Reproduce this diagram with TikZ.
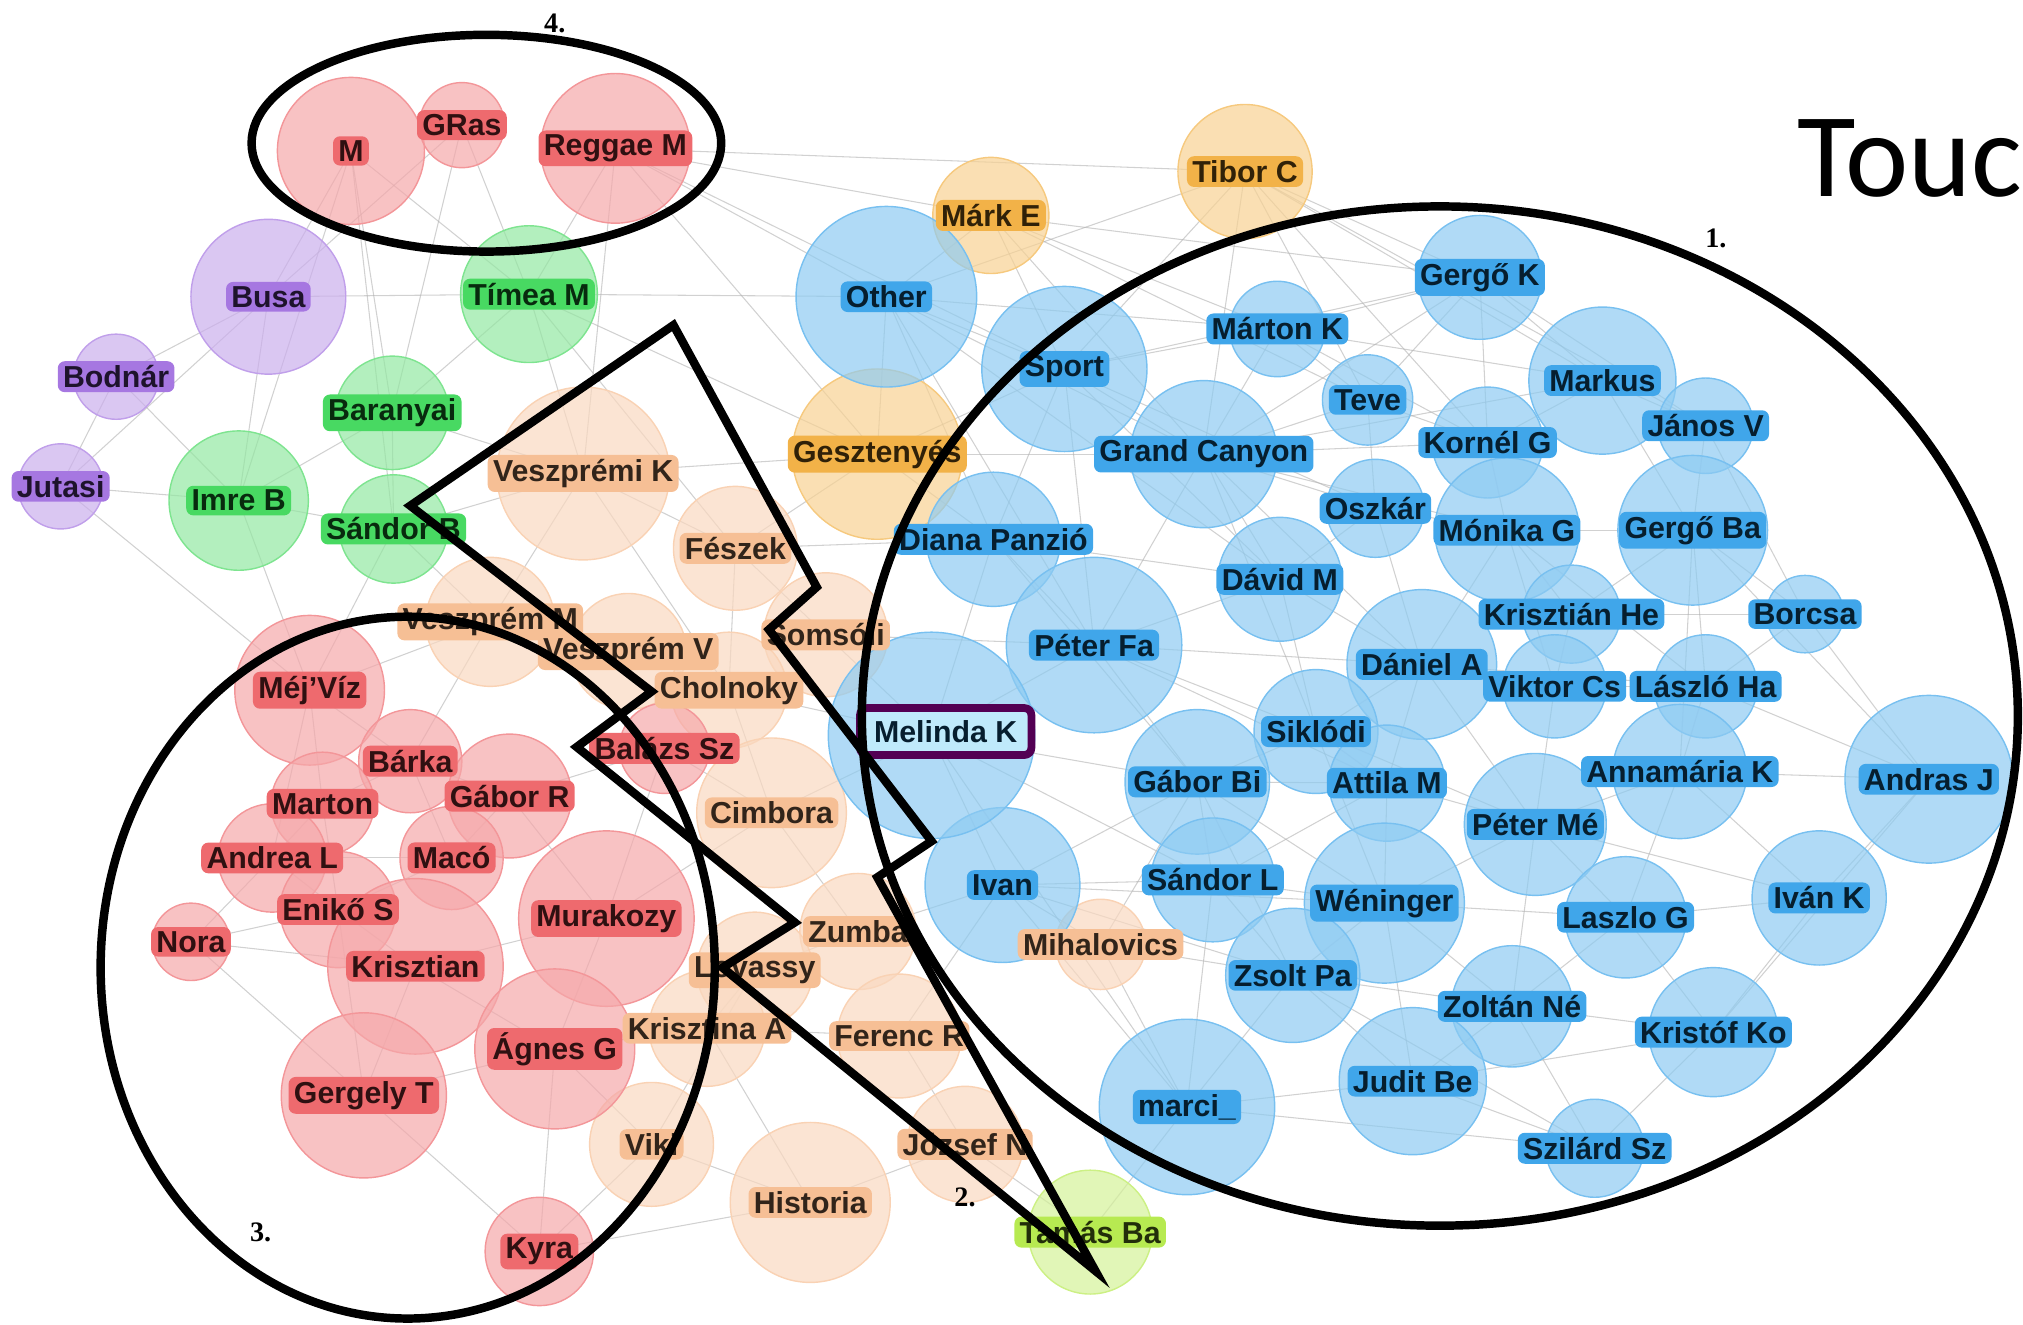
\documentclass[tikz,border=0pt]{standalone}
\usepackage{fontspec}
\setmainfont{Liberation Sans}
\newfontfamily\headfont{Carlito}
\newfontfamily\numfont{Liberation Serif}

\definecolor{blu}{RGB}{30,150,230}
\definecolor{rose}{RGB}{235,80,85}
\definecolor{peach}{RGB}{245,180,130}
\definecolor{amber}{RGB}{240,165,40}
\definecolor{lilac}{RGB}{150,95,220}
\definecolor{leaf}{RGB}{40,210,70}
\definecolor{limey}{RGB}{170,230,50}

\pgfdeclarelayer{edges}
\pgfsetlayers{edges,main}

\tikzset{
  bubble/.style={circle, inner sep=0pt, line width=0.4pt},
  tag/.style={rounded corners=2pt, inner xsep=1.5pt, inner ysep=1.2pt,
              font=\bfseries\fontsize{8.6}{9}\selectfont},
  link/.style={draw=gray!60, line width=0.3pt, opacity=0.6},
  ring/.style={draw=black, line width=2.4pt, line join=round},
  nr/.style={font=\numfont\bfseries\fontsize{8}{9}\selectfont}
}

% name/x/y/radius/colour/label
\def\people{
  busa/208/230/60/lilac/Busa,
  bodnar/90/292/33/lilac/Bodnár,
  jutasi/47/377/33/lilac/Jutasi,
  timea/410/228/53/leaf/Tímea M,
  baranyai/304/320/44/leaf/Baranyai,
  imreb/185/388/54/leaf/Imre B,
  sandorb/305/410/42/leaf/Sándor B,
  tamas/845/955/48/limey/Tamás Ba,
  marke/768/167/45/amber/Márk E,
  tiborc/965/133/52/amber/Tibor C,
  geszt/680/352/66/amber/Gesztenyés,
  veszk/452/367/67/peach/Veszprémi K,
  feszek/570/425/48/peach/Fészek,
  veszm/380/482/50/peach/Veszprém M,
  veszv/487/505/45/peach/Veszprém V,
  somsoli/640/492/48/peach/Somsóli,
  cholnoky/565/535/45/peach/Cholnoky,
  cimbora/598/630/58/peach/Cimbora,
  zumba/665/722/45/peach/Zumba,
  lovassy/585/752/45/peach/Lovassy,
  krisztina/548/797/45/peach/Krisztina A,
  ferenc/697/803/48/peach/Ferenc R,
  viki/505/887/48/peach/Viki,
  historia/628/932/62/peach/Historia,
  jozsef/748/887/45/peach/József N,
  mihal/853/732/35/peach/Mihalovics,
  m/272/117/57/rose/M,
  gras/358/97/33/rose/GRas,
  reggae/477/115/58/rose/Reggae M,
  balazs/515/580/35/rose/Balázs Sz,
  mejviz/240/535/58/rose/Méj'Víz,
  barka/318/590/40/rose/Bárka,
  marton/250/623/40/rose/Marton,
  gaborr/395/617/48/rose/Gábor R,
  andreal/211/665/42/rose/Andrea L,
  maco/350/665/40/rose/Macó,
  eniko/262/705/45/rose/Enikő S,
  nora/148/730/30/rose/Nora,
  murakozy/470/712/68/rose/Murakozy,
  krisztian/322/749/68/rose/Krisztian,
  agnes/430/813/62/rose/Ágnes G,
  gergely/282/849/64/rose/Gergely T,
  kyra/418/970/42/rose/Kyra,
  other/687/230/70/blu/Other,
  sport/825/286/64/blu/Sport,
  diana/770/418/52/blu/Diana Panzió,
  peterfa/848/500/68/blu/Péter Fa,
  ivan/777/686/60/blu/Ivan,
  grand/933/352/57/blu/Grand Canyon,
  martonk/990/255/37/blu/Márton K,
  gergok/1147/215/48/blu/Gergő K,
  teve/1060/310/35/blu/Teve,
  markus/1242/295/57/blu/Markus,
  kornel/1153/343/43/blu/Kornél G,
  janos/1322/330/37/blu/János V,
  oszkar/1066/394/38/blu/Oszkár,
  monika/1168/411/56/blu/Mónika G,
  gergoba/1312/411/58/blu/Gergő Ba,
  david/992/449/48/blu/Dávid M,
  krisztianhe/1218/476/38/blu/Krisztián He,
  borcsa/1399/476/30/blu/Borcsa,
  daniel/1102/515/58/blu/Dániel A,
  viktor/1205/532/40/blu/Viktor Cs,
  laszloha/1322/532/40/blu/László Ha,
  siklodi/1020/567/48/blu/Siklódi,
  gaborbi/928/606/56/blu/Gábor Bi,
  attila/1075/607/45/blu/Attila M,
  annamaria/1302/598/52/blu/Annamária K,
  andras/1495/604/65/blu/Andras J,
  peterme/1190/639/55/blu/Péter Mé,
  sandorl/940/682/48/blu/Sándor L,
  weninger/1073/700/62/blu/Wéninger,
  laszlog/1260/711/47/blu/Laszlo G,
  ivank/1410/696/52/blu/Iván K,
  zsolt/1002/756/52/blu/Zsolt Pa,
  zoltan/1172/780/47/blu/Zoltán Né,
  kristof/1328/800/50/blu/Kristóf Ko,
  judit/1095/838/57/blu/Judit Be,
  marci/920/858/68/blu/marci\_,
  szilard/1236/890/38/blu/Szilárd Sz
}

\begin{document}
\begin{tikzpicture}[x=0.366pt, y=-0.366pt]
  \useasboundingbox (0,0) rectangle (1568,1027);

  % bubbles
  \foreach \nm/\px/\py/\rad/\col/\txt in \people
    \node[bubble, minimum size=\rad*0.732pt, fill=\col!50!white, fill opacity=0.7,
          draw=\col!60!white] (\nm) at (\px,\py) {};
  \node[bubble, minimum size=160*0.366pt, fill=blu!50!white, fill opacity=0.7,
        draw=blu!60!white] (melinda) at (722,570) {};

  % links
  \begin{pgfonlayer}{edges}
  \foreach \a/\b in {other/sport, other/diana, other/grand, other/peterfa, sport/grand,
      sport/martonk, sport/gergok, sport/diana, sport/peterfa, grand/martonk, grand/teve,
      grand/oszkar, grand/david, grand/monika, grand/kornel, grand/gergok, grand/markus,
      martonk/gergok, martonk/teve, martonk/kornel, martonk/markus, gergok/markus,
      gergok/kornel, gergok/janos, gergok/teve, teve/kornel, teve/oszkar, kornel/markus,
      kornel/monika, markus/janos, markus/gergoba, janos/gergoba, janos/borcsa,
      oszkar/monika, oszkar/david, oszkar/daniel, monika/gergoba, monika/krisztianhe,
      monika/daniel, gergoba/borcsa, gergoba/krisztianhe, gergoba/laszloha, david/daniel,
      david/siklodi, david/peterfa, david/diana, diana/peterfa, diana/melinda,
      peterfa/melinda, peterfa/siklodi, peterfa/gaborbi, melinda/ivan, melinda/gaborbi,
      ivan/gaborbi, ivan/sandorl, ivan/marci, daniel/siklodi, daniel/viktor, daniel/attila,
      krisztianhe/viktor, krisztianhe/borcsa, viktor/laszloha, laszloha/annamaria,
      laszloha/borcsa, viktor/peterme, siklodi/attila, siklodi/gaborbi, gaborbi/sandorl,
      attila/peterme, attila/weninger, attila/sandorl, annamaria/andras,
      annamaria/peterme, annamaria/ivank, peterme/weninger, peterme/laszlog,
      sandorl/weninger, sandorl/zsolt, weninger/zsolt, weninger/laszlog, weninger/zoltan,
      laszlog/ivank, laszlog/kristof, laszlog/zoltan, ivank/andras, ivank/kristof,
      zsolt/marci, zsolt/judit, zoltan/judit, zoltan/kristof, kristof/szilard,
      judit/szilard, judit/marci, marci/szilard, andras/kristof, borcsa/andras,
      tiborc/gergok, tiborc/markus, tiborc/grand, tiborc/sport, tiborc/other,
      tiborc/kornel, tiborc/janos, tiborc/teve, marke/teve, marke/gergok,
      marke/other, marke/sport, marke/grand, marke/martonk, reggae/other, reggae/marke,
      reggae/tiborc, reggae/timea, reggae/sport, reggae/geszt, reggae/veszk,
      m/busa, m/timea, m/sandorb, m/baranyai, m/imreb, gras/busa, gras/timea,
      gras/baranyai, busa/bodnar, busa/jutasi, busa/imreb, busa/timea, bodnar/jutasi,
      bodnar/imreb, jutasi/imreb, jutasi/mejviz, imreb/baranyai, imreb/sandorb,
      baranyai/sandorb, baranyai/timea, baranyai/veszk, timea/veszk, timea/other,
      timea/geszt, timea/feszek, sandorb/veszk, sandorb/veszm, sandorb/mejviz,
      imreb/mejviz, geszt/other, geszt/veszk, geszt/feszek, geszt/diana, geszt/sport,
      geszt/grand, veszk/feszek, veszk/veszm, veszk/cholnoky, feszek/somsoli,
      feszek/cholnoky, feszek/diana, veszm/veszv, veszm/mejviz, veszm/barka,
      veszv/cholnoky, somsoli/melinda, somsoli/peterfa, cholnoky/cimbora,
      cholnoky/melinda, cimbora/balazs, cimbora/zumba, cimbora/melinda, zumba/lovassy,
      lovassy/krisztina, lovassy/viki, krisztina/ferenc, krisztina/historia,
      ferenc/jozsef, viki/historia, historia/jozsef, jozsef/tamas, tamas/marci,
      mihal/ivan, mihal/zsolt, mihal/marci, mihal/gaborbi, ferenc/ivan, zumba/ivan,
      other/martonk, other/david, sport/david, sport/oszkar, grand/daniel,
      grand/siklodi, grand/peterfa, peterfa/daniel, peterfa/attila, diana/gaborbi,
      melinda/sandorl, melinda/marci, ivan/zsolt, ivan/weninger, gaborbi/weninger,
      gaborbi/zsolt, gaborbi/attila, siklodi/weninger, siklodi/peterme,
      daniel/peterme, daniel/laszloha, monika/viktor, monika/laszloha,
      gergoba/annamaria, gergoba/andras, andras/laszloha, weninger/judit,
      zsolt/zoltan, zsolt/szilard, judit/kristof, szilard/zoltan, laszlog/annamaria,
      peterme/zoltan, peterme/ivank, sandorl/marci,
      mejviz/barka, mejviz/marton, mejviz/andreal, barka/gaborr, barka/marton,
      barka/maco, marton/andreal, marton/eniko, andreal/eniko, andreal/maco,
      maco/gaborr, maco/eniko, eniko/krisztian, eniko/nora, nora/krisztian,
      nora/gergely, nora/andreal, krisztian/murakozy, krisztian/gergely,
      krisztian/agnes, murakozy/agnes, murakozy/gaborr, murakozy/cimbora,
      agnes/gergely, agnes/kyra, agnes/viki, gergely/kyra, gergely/eniko,
      murakozy/balazs, balazs/gaborr, agnes/krisztina, kyra/viki, kyra/historia}
    \draw[link] (\a.center) -- (\b.center);
  \end{pgfonlayer}

  % labels
  \foreach \nm/\px/\py/\rad/\col/\txt in \people
    \node[tag, fill=\col!85!white, text=\col!20!black] (\nm-t) at (\nm) {\txt};
  \node[tag, fill=cyan!25!white, draw=violet!65!black, line width=2.2pt,
        text=blu!20!black, inner xsep=4pt, inner ysep=3.5pt] (melinda-t) at (733,567)
        {Melinda K};

  % hand drawn marks
  \draw[ring] (1116,555) ellipse [x radius=448, y radius=395];
  \draw[ring] (316,750) ellipse [x radius=238, y radius=272];
  \draw[ring] (377,111) ellipse [x radius=182, y radius=84];
  \draw[ring, line join=miter] (522,252) -- (633,455) -- (596,488) -- (722,652)
    -- (680,680) -- (849,985) -- (560,750) -- (616,715) -- (447,579) -- (505,536)
    -- (318,392) -- cycle;

  \node[nr] (n1) at (1330,185) {1.};
  \node[nr] (n2) at (748,928) {2.};
  \node[nr] (n3) at (202,955) {3.};
  \node[nr] (n4) at (430,18) {4.};

  \node[font=\headfont\fontsize{34}{34}\selectfont, anchor=base west, inner sep=0pt]
    (touc) at (1393,152) {Touc};
\end{tikzpicture}
\end{document}
